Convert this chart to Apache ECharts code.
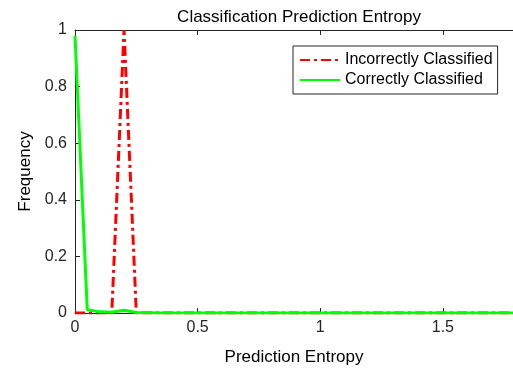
<!DOCTYPE html>
<html><head><meta charset="utf-8">
<script src="https://cdn.jsdelivr.net/npm/echarts@6/dist/echarts.min.js"></script>
<style>html,body{margin:0;padding:0;background:#fff}#c{width:513px;height:368px}</style>
</head><body><div id="c"></div>
<script>
// Bin centres (prediction entropy)
var entropyBins = [0, 0.05, 0.10, 0.15, 0.20, 0.25, 0.30, 0.35, 0.40, 0.45, 0.50, 0.55, 0.60, 0.65, 0.70, 0.75, 0.80, 0.85, 0.90, 0.95, 1.00, 1.05, 1.10, 1.15, 1.20, 1.25, 1.30, 1.35, 1.40, 1.45, 1.50, 1.55, 1.60, 1.65, 1.70, 1.75, 1.80];
var incorrectFreq = [0, 0, 0, 0, 1.0, 0, 0, 0, 0, 0, 0, 0, 0, 0, 0, 0, 0, 0, 0, 0, 0, 0, 0, 0, 0, 0, 0, 0, 0, 0, 0, 0, 0, 0, 0, 0, 0];
var correctFreq = [0.98, 0.012, 0.004, 0.003, 0.01, 0.002, 0.001, 0, 0, 0, 0, 0, 0, 0, 0, 0, 0, 0, 0, 0, 0, 0, 0, 0, 0, 0, 0, 0, 0, 0, 0, 0, 0, 0, 0, 0, 0];
var xTicks = [0, 0.5, 1, 1.5];
var yTicks = [0, 0.2, 0.4, 0.6, 0.8, 1];
var seriesNames = ['Incorrectly Classified', 'Correctly Classified'];

function pairs(ys){ return entropyBins.map(function(x,i){ return [x, ys[i]]; }); }
var FONT = 'Liberation Sans, Arial, Helvetica, sans-serif';
var INK = '#262626';
var chart = echarts.init(document.getElementById('c'), null, {renderer:'canvas'});
var xTickStyle = {show:true, inside:true, length:5, lineStyle:{color:INK}, customValues:xTicks};
var yTickStyle = {show:true, inside:true, length:5, lineStyle:{color:INK}, customValues:yTicks};
chart.setOption({
  animation:false,
  backgroundColor:'#fff',
  title:{text:'Classification Prediction Entropy', left:294, top:4, textAlign:'center',
    textStyle:{fontFamily:FONT, fontSize:17, fontWeight:'normal', color:'#000'}},
  grid:{left:75, right:0, top:30, bottom:55, containLabel:false, outerBoundsMode:'none'},
  legend:{orient:'vertical', left:293, top:46, data:seriesNames,
    itemWidth:40, itemHeight:14, itemGap:4, padding:[6,5,6,6],
    borderColor:INK, borderWidth:1, backgroundColor:'#fff',
    itemStyle:{opacity:0},
    textStyle:{fontFamily:FONT, fontSize:16, lineHeight:16, color:'#000'}},
  xAxis:[
    {type:'value', min:0, max:1.786, position:'bottom',
      name:'Prediction Entropy', nameLocation:'middle', nameGap:36,
      nameTextStyle:{fontFamily:FONT, fontSize:17, color:'#000'},
      axisLine:{show:true, lineStyle:{color:INK, width:1}},
      axisTick:xTickStyle, splitLine:{show:false},
      axisLabel:{fontFamily:FONT, fontSize:16, color:INK, margin:7, customValues:xTicks,
        formatter:function(v){return String(v);}}},
    {type:'value', min:0, max:1.786, position:'top',
      axisLine:{show:true, lineStyle:{color:INK, width:1}},
      axisTick:xTickStyle, splitLine:{show:false}, axisLabel:{show:false}}
  ],
  yAxis:[
    {type:'value', min:0, max:1, position:'left',
      name:'Frequency', nameLocation:'middle', nameGap:36,
      nameTextStyle:{fontFamily:FONT, fontSize:17, color:'#000'},
      axisLine:{show:true, lineStyle:{color:INK, width:1}},
      axisTick:yTickStyle, splitLine:{show:false},
      axisLabel:{fontFamily:FONT, fontSize:16, color:INK, margin:8, customValues:yTicks,
        formatter:function(v){return String(+v.toFixed(1));}}}
  ],
  series:[
    {name:seriesNames[0], type:'line', data:pairs(incorrectFreq), symbol:'none', showSymbol:false,
      lineStyle:{color:'#ff0000', width:3, type:[10,4,3,4]}, itemStyle:{color:'#ff0000'}, z:2},
    {name:seriesNames[1], type:'line', data:pairs(correctFreq), symbol:'none', showSymbol:false,
      lineStyle:{color:'#00ff00', width:3, type:'solid'}, itemStyle:{color:'#00ff00'}, z:3}
  ]
});
</script></body></html>
